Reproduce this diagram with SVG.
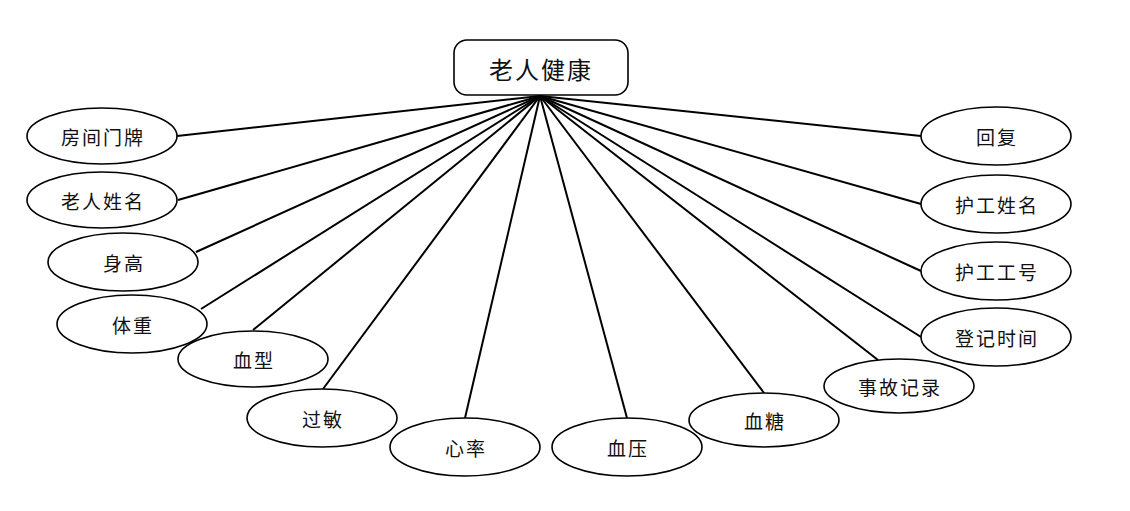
<svg xmlns="http://www.w3.org/2000/svg" width="1130" height="511" viewBox="0 0 1130 511">
<style>
.n ellipse{fill:#fff;stroke:#000;stroke-width:1.6}
.n rect{fill:#fff;stroke:#000;stroke-width:1.6}
text{font-family:"Noto Sans CJK SC","Noto Sans",sans-serif;font-size:19px;fill:#111;text-anchor:middle;dominant-baseline:central;letter-spacing:2px}
#edges line{stroke:#000;stroke-width:2}
</style>
<rect width="1130" height="511" fill="#fff"/>
<g id="edges">
<line x1="540" y1="96" x2="177" y2="136"/>
<line x1="540" y1="96" x2="178" y2="200"/>
<line x1="540" y1="96" x2="196" y2="252"/>
<line x1="540" y1="96" x2="201" y2="309"/>
<line x1="540" y1="96" x2="253" y2="330"/>
<line x1="540" y1="96" x2="323" y2="389"/>
<line x1="540" y1="96" x2="465" y2="418"/>
<line x1="540" y1="96" x2="627" y2="418"/>
<line x1="540" y1="96" x2="764" y2="393"/>
<line x1="540" y1="96" x2="878" y2="360"/>
<line x1="540" y1="96" x2="921" y2="136"/>
<line x1="540" y1="96" x2="921" y2="204"/>
<line x1="540" y1="96" x2="921" y2="271"/>
<line x1="540" y1="96" x2="921" y2="337"/>
</g>
<g id="root" class="n"><rect x="454" y="40" width="174" height="55" rx="13"/><text x="541" y="68" style="font-size:24px">老人健康</text></g>
<g id="n1" class="n"><ellipse cx="102" cy="136" rx="75" ry="28"/><text x="103" y="136">房间门牌</text></g>
<g id="n2" class="n"><ellipse cx="102" cy="200" rx="75" ry="28"/><text x="103" y="200">老人姓名</text></g>
<g id="n3" class="n"><ellipse cx="123" cy="262" rx="75" ry="29"/><text x="124" y="262">身高</text></g>
<g id="n4" class="n"><ellipse cx="132" cy="324" rx="75" ry="29"/><text x="133" y="324">体重</text></g>
<g id="n5" class="n"><ellipse cx="253" cy="359" rx="75" ry="28"/><text x="254" y="359">血型</text></g>
<g id="n6" class="n"><ellipse cx="322" cy="418" rx="75" ry="29"/><text x="323" y="418">过敏</text></g>
<g id="n7" class="n"><ellipse cx="465" cy="447" rx="75" ry="29"/><text x="466" y="447">心率</text></g>
<g id="n8" class="n"><ellipse cx="627" cy="447" rx="75" ry="29"/><text x="628" y="447">血压</text></g>
<g id="n9" class="n"><ellipse cx="764" cy="420" rx="75" ry="27"/><text x="765" y="420">血糖</text></g>
<g id="n10" class="n"><ellipse cx="899" cy="386" rx="75" ry="27"/><text x="900" y="386">事故记录</text></g>
<g id="n11" class="n"><ellipse cx="996" cy="136" rx="75" ry="29"/><text x="997" y="136">回复</text></g>
<g id="n12" class="n"><ellipse cx="996" cy="204" rx="75" ry="29"/><text x="997" y="204">护工姓名</text></g>
<g id="n13" class="n"><ellipse cx="996" cy="271" rx="75" ry="29"/><text x="997" y="271">护工工号</text></g>
<g id="n14" class="n"><ellipse cx="996" cy="337" rx="75" ry="29"/><text x="997" y="337">登记时间</text></g>
</svg>
